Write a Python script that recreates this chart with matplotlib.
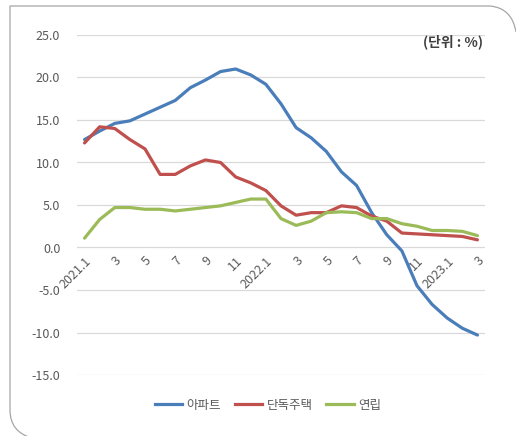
import matplotlib
matplotlib.use("Agg")
import matplotlib.pyplot as plt
from matplotlib.path import Path
from matplotlib.patches import PathPatch
from matplotlib.lines import Line2D

plt.rcParams['font.family'] = ['Noto Sans CJK KR', 'DejaVu Sans']

# months 2021.1 ~ 2023.3
months = ['2021.1','2','3','4','5','6','7','8','9','10','11','12',
          '2022.1','2','3','4','5','6','7','8','9','10','11','12',
          '2023.1','2','3']
apt = [12.7, 13.7, 14.6, 14.9, 15.7, 16.5, 17.3, 18.8, 19.7, 20.7, 21.0, 20.3,
       19.2, 16.9, 14.1, 12.9, 11.3, 8.9, 7.3, 4.1, 1.5, -0.4, -4.5, -6.7,
       -8.3, -9.5, -10.3]
detached = [12.3, 14.2, 14.0, 12.7, 11.6, 8.6, 8.6, 9.6, 10.3, 10.0, 8.3, 7.6,
            6.7, 4.9, 3.8, 4.1, 4.1, 4.9, 4.7, 3.7, 3.1, 1.7, 1.6, 1.5,
            1.4, 1.3, 0.9]
row = [1.1, 3.3, 4.7, 4.7, 4.5, 4.5, 4.3, 4.5, 4.7, 4.9, 5.3, 5.7,
       5.7, 3.4, 2.6, 3.1, 4.1, 4.2, 4.1, 3.4, 3.4, 2.8, 2.5, 2.0,
       2.0, 1.9, 1.4]
names = ['아파트', '단독주택', '연립']
colors = ['#4A7EBB', '#C0504D', '#9BBB59']
yticks = [25, 20, 15, 10, 5, 0, -5, -10, -15]

W, H = 516, 436
fig = plt.figure(figsize=(W/100, H/100), dpi=100)
ax = fig.add_axes([77/W, 1-375/H, (485-77)/W, (375-35)/H])

x = list(range(len(months)))
for vals, c, n in zip([apt, detached, row], colors, names):
    ax.plot(x, vals, color=c, lw=2.3, label=n, solid_capstyle='round')

for s in ax.spines.values():
    s.set_visible(False)
# x labels sit on the zero line
ax.spines['bottom'].set_position(('data', 0))

ax.set_xlim(-0.5, len(months)-0.5)
ax.set_ylim(-15, 25)
ax.set_yticks(yticks)
ax.set_yticklabels(['%.1f' % v for v in yticks], fontsize=9, color='#595959')
ax.yaxis.grid(True, color='#D9D9D9', lw=0.9)
ax.set_axisbelow(True)
ax.tick_params(axis='y', length=0, pad=12)

ax.set_xticks(x[::2])
ax.set_xticklabels(months[::2], rotation=45, ha='right', rotation_mode='anchor',
                   fontsize=9, color='#595959')
ax.tick_params(axis='x', length=0, pad=5)

fig.text(483/W, 1-42/H, '(단위 : %)', fontsize=10, ha='right', va='center',
         color='#404040', fontweight='bold')

handles = [Line2D([], [], color=c, lw=2.3) for c in colors]
fig.legend(handles, names, loc='center', bbox_to_anchor=(268/W, 1-405/H), ncol=3,
           frameon=False, fontsize=9, handlelength=2.2, columnspacing=1.1,
           handletextpad=0.35, labelcolor='#595959')

# outer frame: square top-left, rounded top-right and bottom-left
def px(xp, yp):
    return (xp/W, 1-yp/H)
verts = [px(10, 410), px(10, 6), px(490, 6), px(512, 8), px(516, 32)]
codes = [Path.MOVETO, Path.LINETO, Path.LINETO, Path.CURVE3, Path.CURVE3]
fig.patches.append(PathPatch(Path(verts, codes), transform=fig.transFigure,
                             fill=False, edgecolor='#A6A6A6', lw=0.9))
verts2 = [px(10, 410), px(10, 432), px(32, 438)]
codes2 = [Path.MOVETO, Path.CURVE3, Path.CURVE3]
fig.patches.append(PathPatch(Path(verts2, codes2), transform=fig.transFigure,
                             fill=False, edgecolor='#A6A6A6', lw=0.9))

fig.savefig('out.png', dpi=100)
